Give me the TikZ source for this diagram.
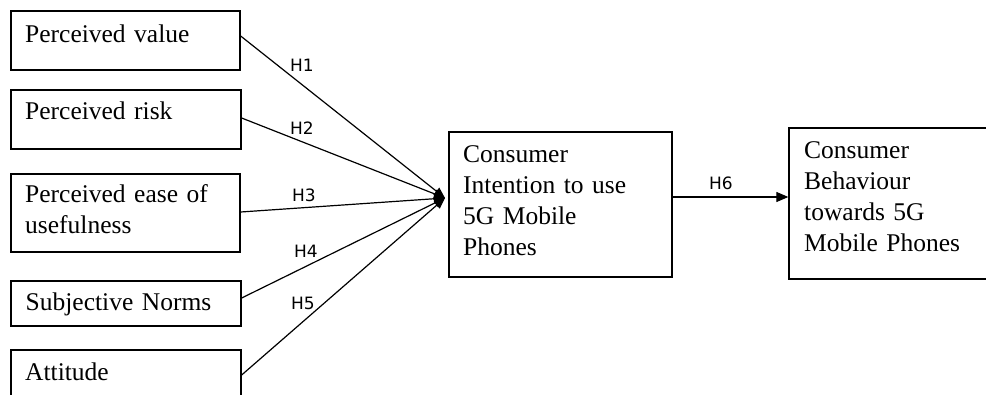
\documentclass[tikz,border=0pt]{standalone}
\usepackage{fontspec}
\setmainfont{Liberation Serif}
\newfontfamily\hfont{DejaVu Sans}
\usetikzlibrary{arrows.meta,calc}
\begin{document}
\begin{tikzpicture}[x=1pt,y=-1pt,
  box/.style={draw=black,line width=1.3pt,rectangle,inner sep=0pt},
  txt/.style={anchor=base west,inner sep=0pt,align=left,text width=#1,
    font=\fontsize{25.5}{31}\selectfont},
  txt/.default=215pt,
  hyp/.style={inner sep=0pt,font=\hfont\fontsize{17}{19}\selectfont},
  conn/.style={line width=1.2pt,-{Triangle[length=11pt,width=9pt]}},
  conn6/.style={line width=1.2pt,-{Triangle[length=12pt,width=10pt]}}]
\useasboundingbox (0,0) rectangle (986,394);
% left boxes
\node[box,minimum width=229pt,minimum height=59pt] (b1) at (125.5,40.5) {};
\node[box,minimum width=230pt,minimum height=59pt] (b2) at (126,119.5) {};
\node[box,minimum width=229pt,minimum height=78pt] (b3) at (125.5,213) {};
\node[box,minimum width=230pt,minimum height=45pt] (b4) at (126,303.5) {};
\node[box,minimum width=230pt,minimum height=60pt] (b5) at (126,380) {};
% middle and right boxes
\node[box,minimum width=223pt,minimum height=145pt] (ci) at (560.5,204.5) {};
\node[box,minimum width=221pt,minimum height=151pt] (cb) at (899.5,203.5) {};
% texts
\node[txt] (t1) at (25,42) {Perceived value};
\node[txt] (t2) at (25,119.5) {Perceived risk};
\node[txt] (t3) at (25,202) {Perceived ease of\\usefulness};
\node[txt] (t4) at (25.5,310) {Subjective Norms};
\node[txt] (t5) at (25,380) {Attitude};
\node[txt=200pt] (t6) at (463,162.5) {Consumer\\Intention to use\\5G Mobile\\Phones};
\node[txt=170pt] (t7) at (804,158) {Consumer\\Behaviour\\towards 5G\\Mobile Phones};
% connectors
\coordinate (conv) at (445,198);
\draw[conn] ([yshift=4.5pt]b1.east) -- (conv);
\draw[conn] ([yshift=1.5pt]b2.east) -- (conv);
\draw[conn] ([yshift=1pt]b3.east) -- (conv);
\draw[conn] ([yshift=5.5pt]b4.east) -- (conv);
\draw[conn] ([yshift=5pt]b5.east) -- (conv);
\draw[conn6] ([yshift=7.5pt]ci.east) -- ([yshift=6.5pt]cb.west);
% labels
\node[hyp] (h1) at (302,65) {H1};
\node[hyp] (h2) at (302,128.5) {H2};
\node[hyp] (h3) at (304,195) {H3};
\node[hyp] (h4) at (306,251.5) {H4};
\node[hyp] (h5) at (303,303.5) {H5};
\node[hyp] (h6) at (721,183.5) {H6};
\end{tikzpicture}
\end{document}
